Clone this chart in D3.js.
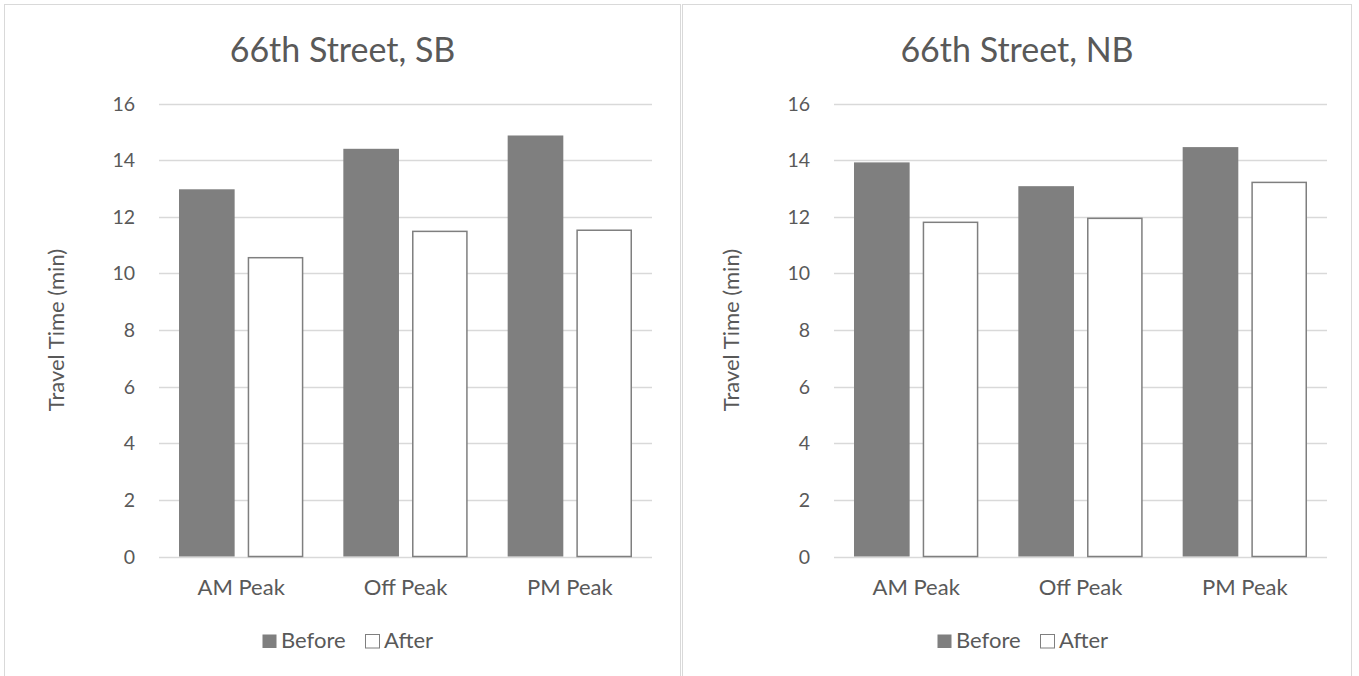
<!DOCTYPE html>
<html>
<head>
<meta charset="utf-8">
<script src="https://cdn.jsdelivr.net/npm/d3@7"></script>
<style>
  html, body { margin: 0; padding: 0; background: #fff; }
  svg { display: block; }
  text { font-family: Lato, "Open Sans", sans-serif; fill: #595959; }
</style>
</head>
<body>
<svg id="chart" width="1359" height="676"></svg>
<script>
const categories = ["AM Peak", "Off Peak", "PM Peak"];
const seriesNames = ["Before", "After"];
const sbBefore = [12.97, 14.40, 14.87];
const sbAfter  = [10.58, 11.51, 11.55];
const nbBefore = [13.92, 13.08, 14.46];
const nbAfter  = [11.83, 11.97, 13.24];
const yTicks = [0, 2, 4, 6, 8, 10, 12, 14, 16];
const titles = ["66th Street, SB", "66th Street, NB"];
const yLabel = "Travel Time (min)";

const panels = [
  { title: titles[0], before: sbBefore, after: sbAfter, x0: 0, left: 4.5, right: 680.5, plotL: 159, plotR: 652 },
  { title: titles[1], before: nbBefore, after: nbAfter, x0: 675, left: 682.5, right: 1351.5, plotL: 834, plotR: 1327 }
];

const svg = d3.select("#chart");
const fillC = { Before: "#7f7f7f", After: "#ffffff" };
const plotTop = 103.5, plotBottom = 556.5;

panels.forEach(p => {
  const g = svg.append("g");
  // frame
  g.append("rect").attr("x", p.left).attr("y", 4.5).attr("width", p.right - p.left).attr("height", 700)
    .attr("fill", "none").attr("stroke", "#d9d9d9").attr("stroke-width", 1);

  const y = d3.scaleLinear().domain([0, 16]).range([plotBottom, plotTop]);
  const x0 = d3.scaleBand().domain(categories).range([p.plotL, p.plotR]).paddingInner(0).paddingOuter(0);
  const x1 = d3.scaleBand().domain(seriesNames).range([20, x0.bandwidth() - 20]).paddingInner(0.19);

  // gridlines
  g.selectAll("line.grid").data(yTicks).enter().append("line")
    .attr("x1", p.plotL).attr("x2", p.plotR)
    .attr("y1", d => Math.round(y(d)) + 0.5).attr("y2", d => Math.round(y(d)) + 0.5)
    .attr("stroke", "#d9d9d9").attr("stroke-width", 1.3);

  // y tick labels
  g.selectAll("text.ytick").data(yTicks).enter().append("text")
    .attr("x", p.plotL - 24).attr("y", d => y(d)).attr("dy", "0.36em")
    .attr("text-anchor", "end").attr("font-size", 19.5).text(d => d);

  // bars
  const data = categories.map((c, i) => ({ c, vals: [
    { s: "Before", v: p.before[i] }, { s: "After", v: p.after[i] } ] }));
  const cg = g.selectAll("g.cat").data(data).enter().append("g")
    .attr("transform", d => `translate(${x0(d.c)},0)`);
  cg.selectAll("rect").data(d => d.vals).enter().append("rect")
    .attr("x", d => x1(d.s) + (d.s === "After" ? 0.75 : 0))
    .attr("y", d => y(d.v) + (d.s === "After" ? 0.75 : 0))
    .attr("width", d => x1.bandwidth() - (d.s === "After" ? 1.5 : 0))
    .attr("height", d => y(0) - y(d.v) - (d.s === "After" ? 0.75 : 0))
    .attr("fill", d => fillC[d.s])
    .attr("stroke", d => d.s === "After" ? "#7f7f7f" : "none")
    .attr("stroke-width", 1.5);

  // category labels
  g.selectAll("text.cat").data(categories).enter().append("text")
    .attr("x", d => x0(d) + x0.bandwidth() / 2).attr("y", 595)
    .attr("text-anchor", "middle").attr("font-size", 22).text(d => d);

  // title
  const cx = (p.left + p.right) / 2;
  g.append("text").attr("x", cx).attr("y", 62)
    .attr("text-anchor", "middle").attr("font-size", 34)
    .text(p.title);

  // y axis title
  g.append("text")
    .attr("transform", `translate(${p.x0 + 64},${(plotTop + plotBottom) / 2}) rotate(-90)`)
    .attr("text-anchor", "middle").attr("font-size", 22).text(yLabel);

  // legend
  const lg = g.append("g").attr("transform", `translate(${p.x0 + 262},648)`);
  const items = [{ s: "Before", dx: 0 }, { s: "After", dx: 103 }];
  items.forEach(it => {
    lg.append("rect").attr("x", it.dx + 0.5).attr("y", -13.5).attr("width", 14).attr("height", 13.5)
      .attr("fill", fillC[it.s]).attr("stroke", it.s === "After" ? "#7f7f7f" : "none");
    lg.append("text").attr("x", it.dx + 19).attr("y", 0)
      .attr("font-size", 22).text(it.s);
  });
});
</script>
</body>
</html>
